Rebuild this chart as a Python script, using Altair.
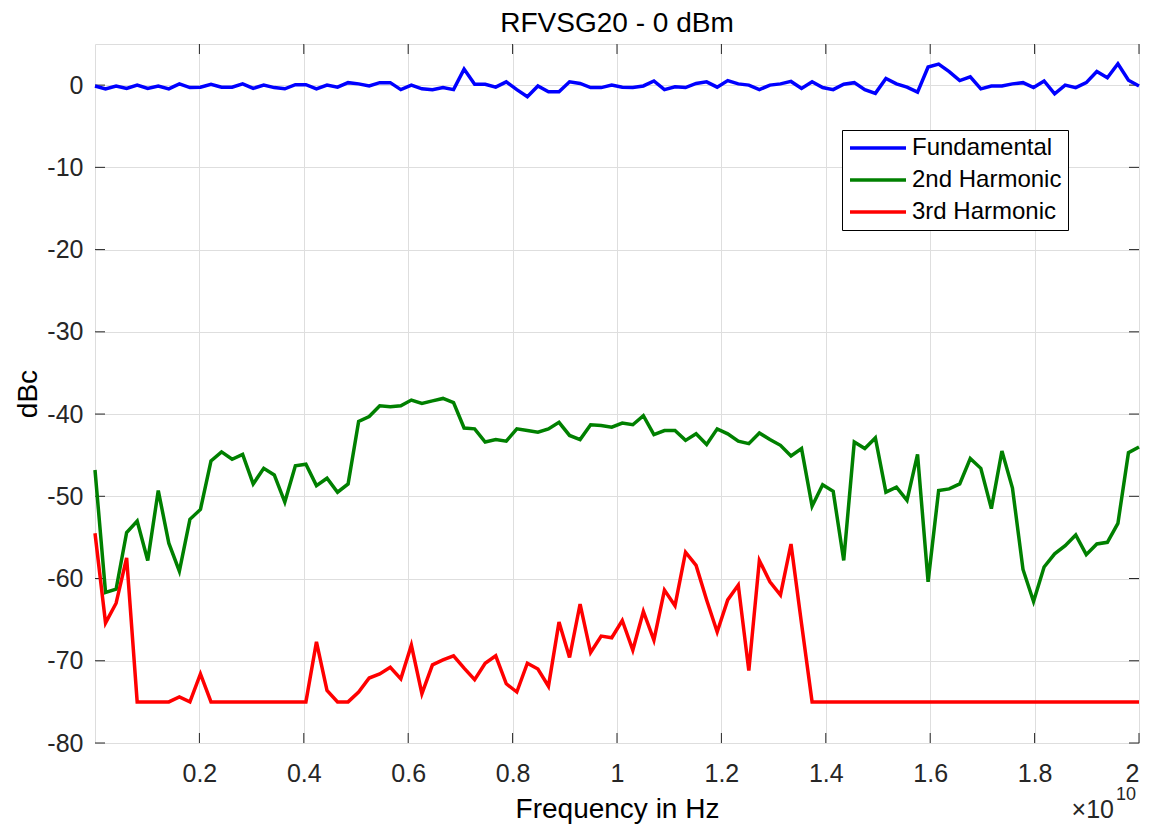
import altair as alt
import numpy as np
import pandas as pd

# ---------------- data ----------------
series_names = ["Fundamental", "2nd Harmonic", "3rd Harmonic"]
series_colors = ["#0000ff", "#008000", "#ff0000"]

freq = np.linspace(0, 2e10, 100)

fundamental = [
    -0.1, -0.45, -0.1, -0.4, 0.0, -0.4, -0.1, -0.45, 0.15, -0.3,
    -0.25, 0.1, -0.25, -0.25, 0.15, -0.4, 0.0, -0.3, -0.45, 0.05,
    0.05, -0.45, 0.0, -0.25, 0.3, 0.15, -0.1, 0.3, 0.3, -0.55,
    0.0, -0.45, -0.55, -0.3, -0.55, 1.95, 0.1, 0.1, -0.25, 0.4,
    -0.55, -1.4, -0.1, -0.8, -0.8, 0.4, 0.2, -0.3, -0.3, 0.0,
    -0.25, -0.3, -0.1, 0.5, -0.55, -0.2, -0.3, 0.2, 0.4, -0.25,
    0.55, 0.15, 0.0, -0.55, 0.0, 0.15, 0.45, -0.4, 0.4, -0.3,
    -0.55, 0.1, 0.3, -0.55, -1.0, 0.8, 0.15, -0.25, -0.85, 2.2,
    2.55, 1.65, 0.55, 1.0, -0.45, -0.1, -0.1, 0.15, 0.3, -0.3,
    0.5, -1.05, 0.0, -0.3, 0.3, 1.65, 0.9, 2.6, 0.6, -0.1,
]

harmonic2 = [
    -46.8, -61.7, -61.3, -54.4, -53.0, -57.8, -49.3, -55.7, -59.1, -52.8,
    -51.6, -45.7, -44.6, -45.5, -44.9, -48.5, -46.6, -47.4, -50.7, -46.3,
    -46.1, -48.7, -47.8, -49.5, -48.5, -40.9, -40.3, -39.0, -39.1, -39.0,
    -38.3, -38.7, -38.4, -38.1, -38.6, -41.7, -41.8, -43.4, -43.1, -43.3,
    -41.8, -42.0, -42.2, -41.8, -41.0, -42.6, -43.1, -41.3, -41.4, -41.6,
    -41.1, -41.3, -40.2, -42.5, -42.0, -42.0, -43.2, -42.4, -43.7, -41.8,
    -42.4, -43.3, -43.6, -42.3, -43.1, -43.8, -45.1, -44.2, -51.2, -48.6,
    -49.4, -57.8, -43.4, -44.2, -42.9, -49.5, -48.9, -50.5, -44.9, -60.4,
    -49.3, -49.1, -48.5, -45.4, -46.6, -51.5, -44.5, -49.0, -58.9, -62.8,
    -58.6, -57.0, -56.0, -54.7, -57.1, -55.8, -55.6, -53.3, -44.7, -44.0,
]

harmonic3 = [
    -54.5, -65.4, -63.0, -57.5, -75.0, -75.0, -75.0, -75.0, -74.4, -75.0,
    -71.6, -75.0, -75.0, -75.0, -75.0, -75.0, -75.0, -75.0, -75.0, -75.0,
    -75.0, -67.7, -73.6, -75.0, -75.0, -73.8, -72.1, -71.6, -70.8, -72.2,
    -68.1, -74.0, -70.5, -69.9, -69.4, -70.9, -72.3, -70.3, -69.4, -72.8,
    -73.8, -70.3, -71.0, -73.1, -65.3, -69.6, -63.1, -69.0, -67.0, -67.2,
    -65.1, -68.7, -64.0, -67.5, -61.4, -63.3, -56.8, -58.4, -62.6, -66.5,
    -62.6, -60.8, -71.2, -57.8, -60.4, -62.0, -55.8, -65.5, -75.0, -75.0,
    -75.0, -75.0, -75.0, -75.0, -75.0, -75.0, -75.0, -75.0, -75.0, -75.0,
    -75.0, -75.0, -75.0, -75.0, -75.0, -75.0, -75.0, -75.0, -75.0, -75.0,
    -75.0, -75.0, -75.0, -75.0, -75.0, -75.0, -75.0, -75.0, -75.0, -75.0,
]

x_ticks = [2e9, 4e9, 6e9, 8e9, 1e10, 1.2e10, 1.4e10, 1.6e10, 1.8e10, 2e10]
y_ticks = [-80, -70, -60, -50, -40, -30, -20, -10, 0]

chart_title = "RFVSG20 - 0 dBm"
x_title = "Frequency in Hz"
y_title = "dBc"
exponent_base = "\u00d710"
exponent_power = "10"

rows = []
for name, vals in zip(series_names, [fundamental, harmonic2, harmonic3]):
    for f, v in zip(freq, vals):
        rows.append({"freq": float(f), "dB": v, "series": name})
df = pd.DataFrame(rows)

# ---------------- style ----------------
W, H = 1044, 699
FONT = "Liberation Sans"
TICK = "#262626"
GRID = "#dedede"

xscale = alt.Scale(domain=[0, 2e10], nice=False, zero=False)
yscale = alt.Scale(domain=[-80, 5], nice=False, zero=False)

xaxis = alt.Axis(
    values=x_ticks,
    labelExpr="format(datum.value / 1e10, '.1~f')",
    title=x_title,
    ticks=False, domain=False, grid=True, gridColor=GRID,
    labelFont=FONT, labelFontSize=25, labelColor=TICK, labelPadding=18,
    titleFont=FONT, titleFontSize=28, titleColor="black",
    titleFontWeight="normal", titlePadding=9,
)
yaxis = alt.Axis(
    values=y_ticks,
    labelExpr="'' + datum.value",
    title=y_title,
    ticks=False, domain=False, grid=True, gridColor=GRID,
    labelFont=FONT, labelFontSize=25, labelColor=TICK, labelPadding=12,
    titleFont=FONT, titleFontSize=28, titleColor="black",
    titleFontWeight="normal", titlePadding=4,
)

lines = alt.Chart(df).mark_line(strokeWidth=3.5).encode(
    x=alt.X("freq:Q", scale=xscale, axis=xaxis),
    y=alt.Y("dB:Q", scale=yscale, axis=yaxis),
    color=alt.Color(
        "series:N",
        scale=alt.Scale(domain=series_names, range=series_colors),
        sort=series_names,
        legend=alt.Legend(
            title=None,
            orient="none", legendX=747, legendY=86,
            fillColor="white", strokeColor="black",
            padding=6, rowPadding=8,
            symbolType="stroke", symbolSize=3136, symbolStrokeWidth=3.5,
            clipHeight=24,
            labelFont=FONT, labelFontSize=24, labelColor="black", labelOffset=4,
        ),
    ),
)

tx = pd.DataFrame({"freq": x_ticks})
ty = pd.DataFrame({"dB": y_ticks})

xt_bottom = alt.Chart(tx).mark_rule(color=TICK, strokeWidth=1).encode(
    x=alt.X("freq:Q", scale=xscale, axis=xaxis), y=alt.value(H), y2=alt.value(H - 10)
)
xt_top = alt.Chart(tx).mark_rule(color=TICK, strokeWidth=1).encode(
    x=alt.X("freq:Q", scale=xscale, axis=xaxis), y=alt.value(0), y2=alt.value(10)
)
yt_left = alt.Chart(ty).mark_rule(color=TICK, strokeWidth=1).encode(
    y=alt.Y("dB:Q", scale=yscale, axis=yaxis), x=alt.value(0), x2=alt.value(10)
)
yt_right = alt.Chart(ty).mark_rule(color=TICK, strokeWidth=1).encode(
    y=alt.Y("dB:Q", scale=yscale, axis=yaxis), x=alt.value(W), x2=alt.value(W - 10)
)

note = pd.DataFrame({"t": [exponent_base], "e": [exponent_power], "title": [chart_title]})
exp_base = alt.Chart(note).mark_text(
    font=FONT, fontSize=25, color=TICK, align="right", baseline="alphabetic"
).encode(text="t:N", x=alt.value(1019), y=alt.value(774))
exp_sup = alt.Chart(note).mark_text(
    font=FONT, fontSize=18, color=TICK, align="left", baseline="alphabetic"
).encode(text="e:N", x=alt.value(1021), y=alt.value(756))
title_mark = alt.Chart(note).mark_text(
    font=FONT, fontSize=28, color="black", align="center", baseline="alphabetic"
).encode(text="title:N", x=alt.value(W / 2), y=alt.value(-12))

chart = (
    alt.layer(xt_bottom, xt_top, yt_left, yt_right, lines, exp_base, exp_sup, title_mark)
    .properties(
        width=W,
        height=H,
        autosize=alt.AutoSizeParams(type="none"),
        padding={"left": 87, "top": 36, "right": 5, "bottom": 83},
    )
    .configure_view(stroke="#555555", strokeWidth=1)
    .configure(background="white")
)

chart.save("out.html", embed_options={"renderer": "svg", "actions": False})
